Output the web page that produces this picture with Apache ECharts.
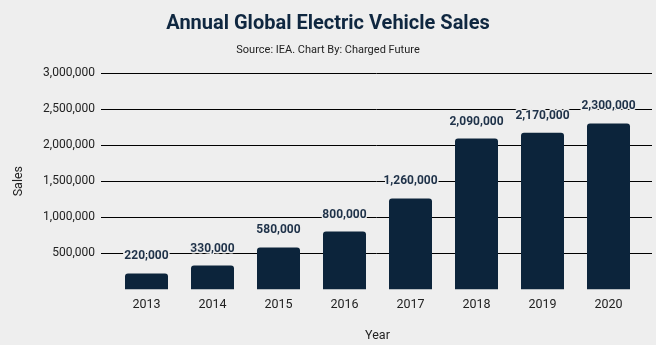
<!DOCTYPE html>
<html>
<head>
<meta charset="utf-8">
<script src="https://cdn.jsdelivr.net/npm/echarts@6/dist/echarts.min.js"></script>
<style>
html,body{margin:0;padding:0;background:#eeeeee;}
#c{width:656px;height:345px;}
</style>
</head>
<body>
<div id="c"></div>
<script>
const years = ['2013','2014','2015','2016','2017','2018','2019','2020'];
const sales = [220000, 330000, 580000, 800000, 1260000, 2090000, 2170000, 2300000];
const titleText = 'Annual Global Electric Vehicle Sales';
const subtitleText = 'Source: IEA. Chart By: Charged Future';
const yMin = 0, yMax = 3000000, yStep = 500000;

const fmt = v => v.toLocaleString('en-US');
const chart = echarts.init(document.getElementById('c'), null, {renderer: 'canvas'});
const font = 'Roboto';
chart.setOption({
  backgroundColor: '#eeeeee',
  animation: false,
  title: {
    text: titleText,
    subtext: subtitleText,
    left: 'center',
    top: 9,
    itemGap: 11,
    textStyle: {fontFamily: font, fontSize: 20, fontWeight: 'bold', color: '#0f2740'},
    subtextStyle: {fontFamily: font, fontSize: 11, color: '#222222'}
  },
  grid: [
    {left: 113.5, right: 14.5, top: 73, bottom: 55.7, outerBoundsMode: 'none', containLabel: false},
    {left: 101, right: 4, top: 73, bottom: 55.7, outerBoundsMode: 'none', containLabel: false}
  ],
  xAxis: [
    {
      type: 'category', gridIndex: 0, data: years,
      axisLine: {show: false}, axisTick: {show: false},
      axisLabel: {fontFamily: font, fontSize: 12.5, color: '#222222', margin: 9},
      name: 'Year', nameLocation: 'middle', nameGap: 40,
      nameTextStyle: {fontFamily: font, fontSize: 12.5, color: '#222222'}
    },
    {type: 'value', gridIndex: 1, show: false, min: 0, max: 1}
  ],
  yAxis: [
    {type: 'value', gridIndex: 0, min: yMin, max: yMax, interval: yStep, show: false, splitLine: {show: false}},
    {
      type: 'value', gridIndex: 1, min: yMin, max: yMax, interval: yStep,
      axisLine: {show: false}, axisTick: {show: false},
      axisLabel: {fontFamily: font, fontSize: 12, color: '#222222', margin: 6,
        formatter: v => v === 0 ? '' : fmt(v)},
      splitLine: {show: true, showMinLine: false, lineStyle: {color: '#000000', width: 1}},
      name: 'Sales', nameLocation: 'middle', nameGap: 76, nameRotate: 90,
      nameTextStyle: {fontFamily: font, fontSize: 12.5, color: '#222222'}
    }
  ],
  series: [{
    type: 'bar',
    xAxisIndex: 0, yAxisIndex: 0,
    data: sales,
    barWidth: 43,
    z: 5,
    itemStyle: {color: '#0c243b', borderRadius: [3, 3, 0, 0]},
    label: {
      show: true, position: 'top', distance: 11,
      formatter: p => fmt(p.value),
      fontFamily: font, fontSize: 12, fontWeight: 'bold', color: '#1f3249',
      textBorderColor: '#eeeeee', textBorderWidth: 3
    }
  }]
});
</script>
</body>
</html>
